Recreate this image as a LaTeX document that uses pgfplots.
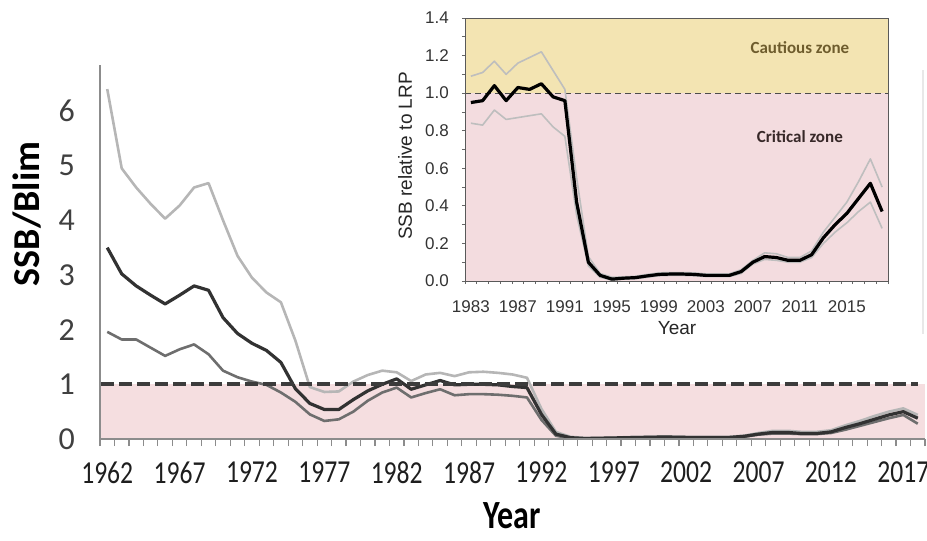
\documentclass[border=0pt]{standalone}
\usepackage{fontspec}
\setmainfont{Carlito}
\newfontfamily\arial{Liberation Sans}
\usepackage{graphicx}
\usepackage{pgfplots}
\usepackage{pgfplotstable}
\pgfplotsset{compat=1.18}

\definecolor{critpink}{RGB}{245,222,224}
\definecolor{insetpink}{RGB}{243,220,223}
\definecolor{cautyellow}{RGB}{243,228,178}
\definecolor{axgray}{RGB}{140,140,140}
\definecolor{ytxt}{RGB}{64,64,64}
\definecolor{xtxt}{RGB}{30,30,30}
\definecolor{hiline}{RGB}{182,182,182}
\definecolor{midline}{RGB}{50,50,50}
\definecolor{loline}{RGB}{110,110,110}
\definecolor{dashcol}{RGB}{60,60,60}
\definecolor{cauttext}{RGB}{110,92,45}
\definecolor{crittext}{RGB}{55,40,40}
\definecolor{ciline}{RGB}{190,190,190}

\newcommand\nar[1]{\scalebox{0.8}[1]{#1}}

% SSB/Blim, full series: upper bound, estimate, lower bound
\pgfplotstableread{
year hi mid lo
1962 6.40 3.50 1.96
1963 4.95 3.02 1.82
1964 4.60 2.80 1.82
1965 4.30 2.63 1.67
1966 4.03 2.47 1.52
1967 4.27 2.63 1.64
1968 4.60 2.80 1.73
1969 4.68 2.72 1.55
1970 4.00 2.22 1.25
1971 3.35 1.93 1.13
1972 2.95 1.75 1.05
1973 2.68 1.62 0.99
1974 2.50 1.40 0.85
1975 1.80 0.92 0.68
1976 0.95 0.65 0.45
1977 0.86 0.54 0.33
1978 0.87 0.54 0.36
1979 1.05 0.72 0.50
1980 1.17 0.88 0.70
1981 1.25 1.00 0.85
1982 1.22 1.10 0.94
1983 1.06 0.91 0.76
1984 1.18 0.99 0.84
1985 1.21 1.07 0.91
1986 1.15 0.99 0.80
1987 1.22 1.00 0.82
1988 1.23 1.00 0.82
1989 1.21 0.99 0.81
1990 1.18 0.96 0.79
1991 1.12 0.94 0.76
1992 0.55 0.45 0.35
1993 0.13 0.09 0.06
1994 0.04 0.025 0.01
1995 0.02 0.01 0.005
1996 0.02 0.015 0.01
1997 0.025 0.02 0.012
1998 0.035 0.025 0.015
1999 0.04 0.03 0.02
2000 0.045 0.035 0.025
2001 0.045 0.035 0.025
2002 0.04 0.03 0.02
2003 0.04 0.03 0.02
2004 0.04 0.03 0.02
2005 0.04 0.03 0.02
2006 0.06 0.05 0.04
2007 0.11 0.09 0.08
2008 0.15 0.12 0.10
2009 0.15 0.12 0.10
2010 0.13 0.10 0.09
2011 0.13 0.10 0.09
2012 0.16 0.13 0.11
2013 0.25 0.21 0.17
2014 0.33 0.28 0.24
2015 0.42 0.36 0.31
2016 0.50 0.44 0.38
2017 0.56 0.50 0.44
2018 0.44 0.38 0.28
}\fulltable

% SSB relative to LRP since 1983
\pgfplotstableread{
year hi mid lo
1983 1.09 0.95 0.84
1984 1.11 0.96 0.83
1985 1.17 1.04 0.91
1986 1.10 0.96 0.86
1987 1.16 1.03 0.87
1988 1.19 1.02 0.88
1989 1.22 1.05 0.89
1990 1.12 0.98 0.82
1991 1.02 0.96 0.77
1992 0.55 0.42 0.35
1993 0.13 0.10 0.08
1994 0.04 0.03 0.02
1995 0.02 0.01 0.005
1996 0.022 0.015 0.01
1997 0.025 0.018 0.012
1998 0.035 0.027 0.02
1999 0.043 0.035 0.028
2000 0.045 0.037 0.03
2001 0.045 0.037 0.03
2002 0.043 0.035 0.028
2003 0.038 0.03 0.024
2004 0.038 0.03 0.024
2005 0.038 0.03 0.024
2006 0.06 0.05 0.04
2007 0.11 0.10 0.09
2008 0.15 0.13 0.115
2009 0.145 0.125 0.11
2010 0.125 0.11 0.10
2011 0.125 0.11 0.10
2012 0.16 0.14 0.125
2013 0.26 0.23 0.20
2014 0.34 0.30 0.26
2015 0.42 0.36 0.31
2016 0.53 0.44 0.37
2017 0.65 0.52 0.42
2018 0.50 0.37 0.28
}\insettable

\begin{document}
\begin{tikzpicture}
\useasboundingbox (0,0) rectangle (463.5pt,-270.5pt);

% main panel
\begin{axis}[
  at={(50pt,-219.5pt)}, anchor=south west,
  scale only axis, width=412.5pt, height=187pt,
  xmin=1961.5, xmax=2018.5, ymin=0, ymax=6.84,
  axis x line*=bottom, axis y line*=left,
  axis line style={draw=axgray, line width=0.7pt, -},
  axis on top,
  /pgf/number format/assume math mode=true,
  ytick={0,1,2,3,4,5,6},
  ytick style={draw=none},
  yticklabel style={font=\fontsize{16}{16}\selectfont, text=ytxt, anchor=east, xshift=-9pt},
  xtick={1962,1967,1972,1977,1982,1987,1992,1997,2002,2007,2012,2017},
  xticklabels={\nar{1962},\nar{1967},\nar{1972},\nar{1977},\nar{1982},\nar{1987},\nar{1992},\nar{1997},\nar{2002},\nar{2007},\nar{2012},\nar{2017}},
  minor xtick={1961.5,1962.5,...,2018.5},
  major tick length=0pt, minor tick length=3.5pt, tick align=outside,
  major x tick style={draw=none},
  minor x tick style={draw=axgray, line width=0.6pt},
  xticklabel style={font=\fontsize{16}{16}\selectfont, text=xtxt, yshift=-8pt},
]
\addplot[fill=critpink, draw=none] coordinates {(1961.5,0) (1961.5,1) (2018.5,1) (2018.5,0)} -- cycle;
\addplot[hiline, line width=1.3pt, line join=round] table[x=year, y=hi] {\fulltable};
\addplot[loline, line width=1.3pt, line join=round] table[x=year, y=lo] {\fulltable};
\addplot[midline, line width=1.6pt, line join=round] table[x=year, y=mid] {\fulltable};
\addplot[dashcol, line width=2pt, dash pattern=on 6.5pt off 2.5pt] coordinates {(1961.6,1) (2018,1)};
\end{axis}

\node[rotate=90, font=\bfseries\fontsize{19}{19}\selectfont, text=black] at (13.5pt,-107pt) {SSB/Blim};
\node[inner sep=0pt, font=\bfseries\fontsize{20}{20}\selectfont, text=black] at (256pt,-258pt) {\scalebox{0.8}[1]{Year}};

% faint frame edge of the inset figure
\draw[gray!18, line width=0.6pt] (461.5pt,-35pt) -- (461.5pt,-167pt);

% inset panel
\begin{axis}[
  at={(232.5pt,-140.5pt)}, anchor=south west,
  scale only axis, width=211.5pt, height=131.5pt,
  xmin=1982.5, xmax=2018.5, ymin=0, ymax=1.4,
  axis on top,
  axis line style={draw=black!65, line width=0.5pt},
  /pgf/number format/assume math mode=true,
  ytick={0,0.2,0.4,0.6,0.8,1.0,1.2,1.4},
  minor ytick={0.1,0.3,0.5,0.7,0.9,1.1,1.3},
  yticklabel style={font=\arial\fontsize{8.5}{8.5}\selectfont, text=black!80, xshift=-3pt,
    /pgf/number format/.cd, fixed, fixed zerofill, precision=1},
  xtick={1983,1987,1991,1995,1999,2003,2007,2011,2015},
  xticklabels={1983,1987,1991,1995,1999,2003,2007,2011,2015},
  minor xtick={1982.5,1983.5,...,2018.5},
  tick align=outside, major tick length=1.6pt, minor tick length=1.6pt,
  ytick pos=left, xtick pos=bottom,
  major x tick style={draw=none},
  tick style={draw=black!60, line width=0.4pt},
  xticklabel style={font=\arial\fontsize{8.5}{8.5}\selectfont, text=black!80, yshift=-4.5pt},
]
\addplot[fill=insetpink, draw=none] coordinates {(1982.5,0) (1982.5,1) (2018.5,1) (2018.5,0)} -- cycle;
\addplot[fill=cautyellow, draw=none] coordinates {(1982.5,1) (1982.5,1.4) (2018.5,1.4) (2018.5,1)} -- cycle;
\addplot[black!70, line width=0.6pt, dash pattern=on 3pt off 2pt] coordinates {(1982.5,1) (2018.5,1)};
\addplot[ciline, line width=0.8pt, line join=round] table[x=year, y=hi] {\insettable};
\addplot[ciline, line width=0.8pt, line join=round] table[x=year, y=lo] {\insettable};
\addplot[black, line width=1.6pt, line join=round] table[x=year, y=mid] {\insettable};
\node[font=\bfseries\fontsize{8.5}{8.5}\selectfont, text=cauttext] at (axis cs:2011,1.245) {Cautious zone};
\node[font=\bfseries\fontsize{8.5}{8.5}\selectfont, text=crittext] at (axis cs:2011,0.77) {Critical zone};
\end{axis}

\node[rotate=90, font=\arial\fontsize{9.5}{9.5}\selectfont, text=black!85] at (202.5pt,-78pt) {SSB relative to LRP};
\node[font=\arial\fontsize{9.5}{9.5}\selectfont, text=black!85] at (338.5pt,-164pt) {Year};
\end{tikzpicture}
\end{document}
